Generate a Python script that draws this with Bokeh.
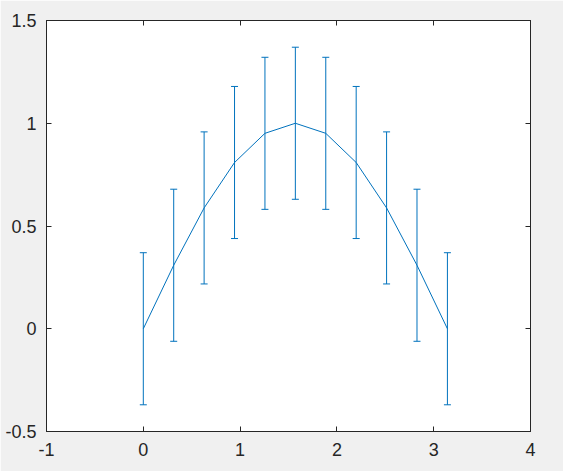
from bokeh.plotting import figure
from bokeh.models import ColumnDataSource, Whisker, TeeHead, LinearAxis, FixedTicker, Range1d
from bokeh.embed import file_html
from bokeh.resources import INLINE

x_vals = [0.0, 0.3142, 0.6283, 0.9425, 1.2566, 1.5708, 1.8850, 2.1991, 2.5133, 2.8274, 3.1416]
y_vals = [0.0, 0.309, 0.588, 0.809, 0.951, 1.0, 0.951, 0.809, 0.588, 0.309, 0.0]
err_vals = [0.37, 0.37, 0.37, 0.37, 0.37, 0.37, 0.37, 0.37, 0.37, 0.37, 0.37]

x_ticks = [-1, 0, 1, 2, 3, 4]
x_tick_labels = ["-1", "0", "1", "2", "3", "4"]
y_ticks = [-0.5, 0, 0.5, 1, 1.5]
y_tick_labels = ["-0.5", "0", "0.5", "1", "1.5"]

BLUE = "#0072BD"
INK = "#262626"
BG = "#F0F0F0"
FONT = "Liberation Sans"

src = ColumnDataSource(dict(
    x=x_vals, y=y_vals,
    upper=[a + b for a, b in zip(y_vals, err_vals)],
    lower=[a - b for a, b in zip(y_vals, err_vals)],
))

p = figure(width=563, height=471, output_backend="svg", toolbar_location=None,
           x_range=Range1d(-1, 4), y_range=Range1d(-0.5, 1.5),
           x_axis_location=None, y_axis_location=None,
           min_border_left=46, min_border_right=33, min_border_top=20, min_border_bottom=40)
p.background_fill_color = "white"
p.border_fill_color = BG
p.outline_line_color = INK
p.outline_line_width = 1
p.xgrid.visible = False
p.ygrid.visible = False

p.line("x", "y", source=src, line_color=BLUE, line_width=1)
p.add_layout(Whisker(source=src, base="x", upper="upper", lower="lower",
                     line_color=BLUE, line_width=1,
                     upper_head=TeeHead(size=7, line_color=BLUE, line_width=1),
                     lower_head=TeeHead(size=7, line_color=BLUE, line_width=1)))

def make_axis(ticks, labels, show_labels):
    ax = LinearAxis(ticker=FixedTicker(ticks=ticks))
    ax.major_tick_in = 5
    ax.major_tick_out = 0
    ax.minor_tick_in = 0
    ax.minor_tick_out = 0
    ax.axis_line_color = INK
    ax.major_tick_line_color = INK
    ax.major_label_text_color = INK
    ax.major_label_text_font = FONT
    ax.major_label_text_font_size = "18px"
    if show_labels:
        ax.major_label_overrides = {t: l for t, l in zip(ticks, labels)}
    else:
        ax.major_label_overrides = {t: "" for t in ticks}
        ax.major_label_standoff = 0
    return ax

bottom = make_axis(x_ticks, x_tick_labels, True)
bottom.major_label_standoff = 11
left = make_axis(y_ticks, y_tick_labels, True)
left.major_label_standoff = 10
top = make_axis(x_ticks, x_tick_labels, False)
right = make_axis(y_ticks, y_tick_labels, False)

p.add_layout(bottom, "below")
p.add_layout(left, "left")
p.add_layout(top, "above")
p.add_layout(right, "right")

open("out.html", "w").write(file_html(p, INLINE))
